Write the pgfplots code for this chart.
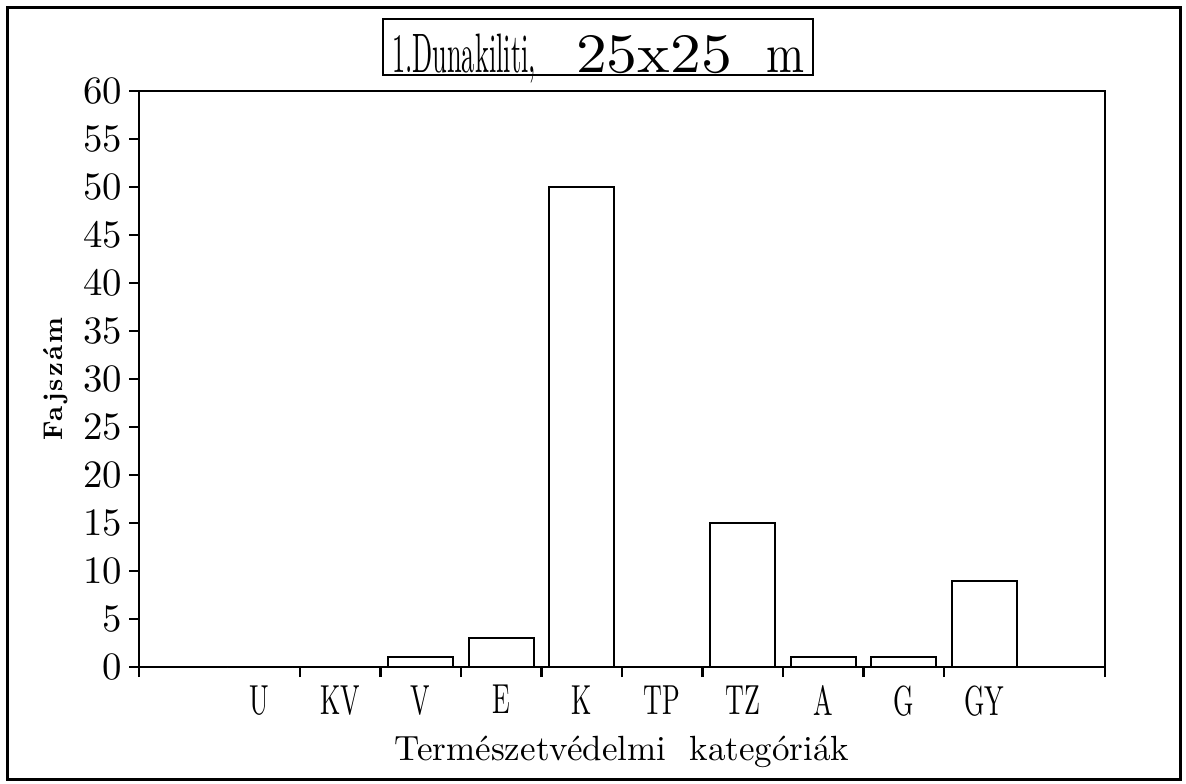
\documentclass[border=0pt]{standalone}
\usepackage{fontspec}
\usepackage{graphicx}
\usepackage{pgfplots}
\pgfplotsset{compat=1.18}
\setmainfont{lmroman10-regular.otf}
\newfontfamily\norm{lmroman10-regular.otf}
\newfontfamily\condX{lmroman10-regular.otf}[FakeStretch=0.62]
\newfontfamily\boldls{lmroman10-bold.otf}[LetterSpace=8]

\begin{document}
\begin{tikzpicture}
\useasboundingbox (0pt,0pt) rectangle (593pt,-391.5pt);
\draw[line width=1.5pt] (3.5pt,-3.5pt) rectangle (590pt,-389.5pt);
\begin{axis}[
    at={(69.5pt,-333.5pt)}, anchor=south west,
    scale only axis, width=483pt, height=288pt,
    xmin=-0.5, xmax=11.5, ymin=0, ymax=60,
    ytick={0,5,...,60},
    xtick={1,...,10},
    xticklabels={U,KV,V,E,K,TP,TZ,A,G,GY},
    minor xtick={-0.5,1.5,2.5,3.5,4.5,5.5,6.5,7.5,8.5,9.5,11.5},
    xtick pos=bottom, ytick pos=left,
    tick align=outside,
    major tick length=5pt, minor tick length=5pt,
    major x tick style={draw=none},
    every tick/.style={black, line width=1.2pt},
    axis line style={line width=1.2pt},
    /pgf/number format/assume math mode=true,
    yticklabel style={font=\norm\fontsize{19.4}{20}\selectfont},
    xticklabel style={font=\condX\fontsize{21}{22}\selectfont, inner sep=4pt},
    xlabel={Természetvédelmi\ \ kategóriák},
    xlabel style={at={(axis description cs:0.5,-0.1615)}, anchor=base,
        font=\norm\fontsize{17.5}{18}\selectfont},
    ylabel={Fajszám},
    ylabel style={at={(axis description cs:-0.086,0.5)}, anchor=center,
        font=\boldls\fontsize{13.5}{14}\selectfont},
    title={\resizebox{72pt}{\height}{1.Dunakiliti,}\hspace{20pt}%
        \resizebox{78pt}{\height}{25x25}\hspace{17pt}\resizebox{19pt}{\height}{m}},
    title style={at={(axis description cs:0.5,1.0764)}, anchor=center,
        yshift=-6pt, xshift=-12pt,
        font=\norm\fontsize{27.8}{28}\selectfont,
        draw, line width=1pt, minimum width=215pt, inner sep=0pt,
        text height=26.5pt, text depth=1.5pt},
]
\addplot[ybar, bar width=32.5pt, fill=white, draw=black, line width=1pt]
    coordinates {(1,0) (2,0) (3,1) (4,3) (5,50) (6,0) (7,15) (8,1) (9,1) (10,9)};
\end{axis}
\end{tikzpicture}
\end{document}
